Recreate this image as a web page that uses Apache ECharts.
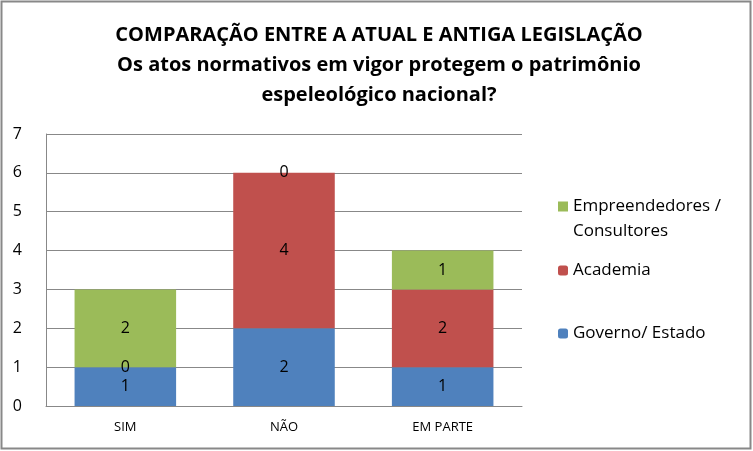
<!DOCTYPE html>
<html><head><meta charset="utf-8">
<script src="https://cdn.jsdelivr.net/npm/echarts@6/dist/echarts.min.js"></script>
<style>html,body{margin:0;padding:0;background:#fff}#c{width:753px;height:451px}</style>
</head><body><div id="c"></div>
<script>
const categories = ['SIM', 'NÃO', 'EM PARTE'];
const governo = [1, 2, 1];
const academia = [0, 4, 2];
const empreendedores = [2, 0, 1];
const yTicks = [0, 1, 2, 3, 4, 5, 6, 7];

const chart = echarts.init(document.getElementById('c'));
const font = '"Open Sans", "Noto Sans", sans-serif';
const lbl = {show: true, position: 'inside', color: '#000', fontSize: 16, fontFamily: font};
const legText = {fontSize: 17, fontFamily: font, color: '#000'};
chart.setOption({
  animation: false,
  graphic: [{type: 'rect', shape: {x: 1.5, y: 1.5, width: 749, height: 447}, style: {fill: 'none', stroke: '#888', lineWidth: 2}}],
  title: {
    text: 'COMPARAÇÃO ENTRE A ATUAL E ANTIGA LEGISLAÇÃO\nOs atos normativos em vigor protegem o patrimônio\nespeleológico nacional?',
    left: 374, top: 15, textAlign: 'center',
    textStyle: {fontSize: 20, fontWeight: 'bold', fontFamily: font, color: '#000', lineHeight: 30}
  },
  legend: [
    {data: ['Empreendedores / Consultores'], orient: 'vertical', left: 553, top: 189, itemWidth: 10, itemHeight: 35, itemGap: 0,
     icon: 'path://M0,0H10V10H0Z M0,35H10',
     textStyle: Object.assign({lineHeight: 25}, legText), formatter: () => 'Empreendedores /\nConsultores'},
    {data: ['Academia'], orient: 'vertical', left: 553, top: 257, itemWidth: 10, itemHeight: 10, textStyle: legText},
    {data: ['Governo/ Estado'], orient: 'vertical', left: 553, top: 320, itemWidth: 10, itemHeight: 10, textStyle: legText}
  ],
  grid: {left: 46, top: 134, width: 476, height: 272},
  xAxis: {type: 'category', data: categories,
    axisLine: {lineStyle: {color: '#888'}}, axisTick: {show: false},
    axisLabel: {fontSize: 13, fontFamily: font, color: '#000', margin: 15}},
  yAxis: {type: 'value', min: 0, max: 7, interval: 1,
    axisLine: {show: true, lineStyle: {color: '#888'}}, axisTick: {show: false},
    splitLine: {lineStyle: {color: '#888'}},
    axisLabel: {fontSize: 16, fontFamily: font, color: '#000', margin: 24, formatter: v => yTicks.includes(v) ? String(v) : ''}},
  series: [
    {name: 'Governo/ Estado', type: 'bar', stack: 's', data: governo, itemStyle: {color: '#4F81BD'}, label: lbl, barCategoryGap: '36%'},
    {name: 'Academia', type: 'bar', stack: 's', data: academia, itemStyle: {color: '#C0504D'}, label: lbl},
    {name: 'Empreendedores / Consultores', type: 'bar', stack: 's', data: empreendedores, itemStyle: {color: '#9BBB59'}, label: lbl}
  ]
});
</script></body></html>
